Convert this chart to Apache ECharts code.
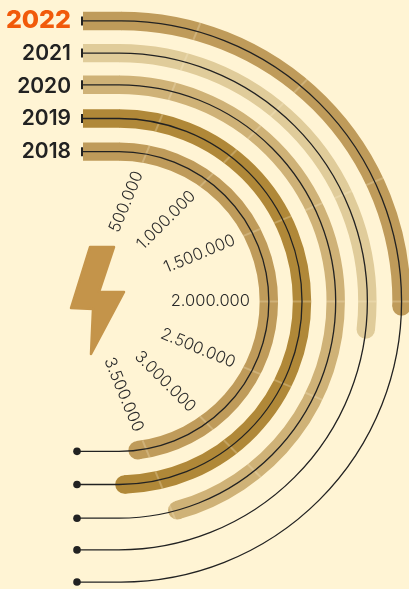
<!DOCTYPE html>
<html>
<head>
<meta charset="utf-8">
<style>html,body{margin:0;padding:0;background:#FFF4D4}#c{width:409px;height:589px}</style>
<script src="https://cdn.jsdelivr.net/npm/echarts@6/dist/echarts.min.js"></script>
</head>
<body>
<div id="c"></div>
<script>
const years = ['2018', '2019', '2020', '2021', '2022'];
const consumption = [3567000, 3730000, 3470000, 2127000, 2020000];
const ringColors = ['#BF9B5A', '#B08838', '#CFB277', '#E0CC9A', '#BF9B5A'];
const tickValues = [500000, 1000000, 1500000, 2000000, 2500000, 3000000, 3500000];
const tickLabels = ['500.000', '1.000.000', '1.500.000', '2.000.000', '2.500.000', '3.000.000', '3.500.000'];

const OX = 85, CY = 301.5, STUB_X = 82, DOT_X = 77, BAR_W = 18.4, LABEL_R = 131;
const CX = i => (i === 4 ? 121 : 119);
const RING_NUDGE = [0, 0.5, 1.5, 0.5, 0];

function rayPoint(p, r, cx) {
  const dx = p[0] - OX, dy = p[1] - CY, len = Math.hypot(dx, dy);
  const ux = dx / len, uy = dy / len, d = cx - OX;
  const t = d * ux + Math.sqrt(d * d * ux * ux - d * d + r * r);
  return [OX + t * ux, CY + t * uy, ux, uy];
}
const ringR = (api, i) => CY - api.coord([i, 0])[1] + RING_NUDGE[i];

const chart = echarts.init(document.getElementById('c'), null, {renderer: 'canvas'});
chart.setOption({
  backgroundColor: '#FFF4D4',
  animation: false,
  polar: {center: [OX, CY], radius: [133.5, 296.9]},
  angleAxis: {type: 'value', min: 0, max: 8000000, interval: 500000, startAngle: 90, clockwise: true, show: false},
  radiusAxis: {
    type: 'category', data: years,
    axisLine: {show: false}, axisTick: {show: false}, splitLine: {show: false},
    z: 10,
    axisLabel: {
      show: true, margin: 14, interval: 0,
      formatter: v => v === '2022' ? '{hi|' + v + '}' : '{n|' + v + '}',
      rich: {
        hi: {fontFamily: 'Inter', fontWeight: 800, fontSize: 25, color: '#F15A0A'},
        n: {fontFamily: 'Inter', fontWeight: 600, fontSize: 21, color: '#222222'}
      }
    }
  },
  graphic: [{
    type: 'polygon', z: 1,
    shape: {points: [[90, 247], [114, 247], [99, 292], [124, 292], [91, 354], [93, 309], [71, 308]]},
    style: {fill: '#C4944A', stroke: '#C4944A', lineWidth: 2.5, lineJoin: 'round'}
  }],
  series: [
    {
      type: 'custom', coordinateSystem: 'polar', z: 2, silent: true,
      data: consumption.map((v, i) => [i, v]),
      renderItem(params, api) {
        const i = api.value(0), r = ringR(api, i), cx = CX(i);
        const end = rayPoint(api.coord([i, api.value(1)]), r, cx);
        const a = Math.atan2(end[1] - CY, end[0] - cx);
        const style = {stroke: ringColors[i], lineWidth: BAR_W, fill: null};
        return {type: 'group', children: [
          {type: 'line', shape: {x1: STUB_X + 1, y1: CY - r, x2: cx + 0.5, y2: CY - r}, style},
          {type: 'arc', shape: {cx, cy: CY, r, startAngle: -Math.PI / 2, endAngle: a, clockwise: true}, style},
          {type: 'circle', shape: {cx: end[0], cy: end[1], r: BAR_W / 2}, style: {fill: ringColors[i]}}
        ]};
      }
    },
    {
      type: 'custom', coordinateSystem: 'polar', z: 3, silent: true,
      data: years.flatMap((y, i) => tickValues.filter(t => t <= consumption[i] + 60000).map(t => [i, t])),
      renderItem(params, api) {
        const i = api.value(0), r = ringR(api, i);
        const q = rayPoint(api.coord([i, api.value(1)]), r, CX(i));
        const h = BAR_W / 2;
        return {type: 'line',
          shape: {x1: q[0] - h * q[2], y1: q[1] - h * q[3], x2: q[0] + h * q[2], y2: q[1] + h * q[3]},
          style: {stroke: 'rgba(255,244,212,0.25)', lineWidth: 2}};
      }
    },
    {
      type: 'custom', coordinateSystem: 'polar', z: 4, silent: true,
      data: years.map((y, i) => [i, 0]),
      renderItem(params, api) {
        const i = api.value(0), r = ringR(api, i), cx = CX(i);
        const style = {stroke: '#222222', lineWidth: 1.3, fill: null};
        return {type: 'group', children: [
          {type: 'line', shape: {x1: STUB_X, y1: CY - r - 4.5, x2: STUB_X, y2: CY - r + 4.5}, style: {stroke: '#222222', lineWidth: 2}},
          {type: 'line', shape: {x1: STUB_X, y1: CY - r, x2: cx, y2: CY - r}, style},
          {type: 'arc', shape: {cx, cy: CY, r, startAngle: -Math.PI / 2, endAngle: Math.PI / 2, clockwise: true}, style},
          {type: 'line', shape: {x1: cx, y1: CY + r, x2: DOT_X, y2: CY + r}, style},
          {type: 'circle', shape: {cx: DOT_X, cy: CY + r, r: 3.8}, style: {fill: '#222222'}}
        ]};
      }
    },
    {
      type: 'custom', coordinateSystem: 'polar', z: 5, silent: true,
      data: tickValues.map((t, k) => [0, t, k]),
      renderItem(params, api) {
        const q = rayPoint(api.coord([0, api.value(1)]), LABEL_R, CX(0));
        return {type: 'text', x: q[0], y: q[1], rotation: -Math.atan2(q[3], q[2]),
          style: {text: tickLabels[api.value(2)], textAlign: 'right', textVerticalAlign: 'middle',
            fontFamily: 'Inter', fontWeight: 300, fontSize: 16.5, fill: '#2A2A2A'}};
      }
    }
  ]
});
</script>
</body>
</html>
